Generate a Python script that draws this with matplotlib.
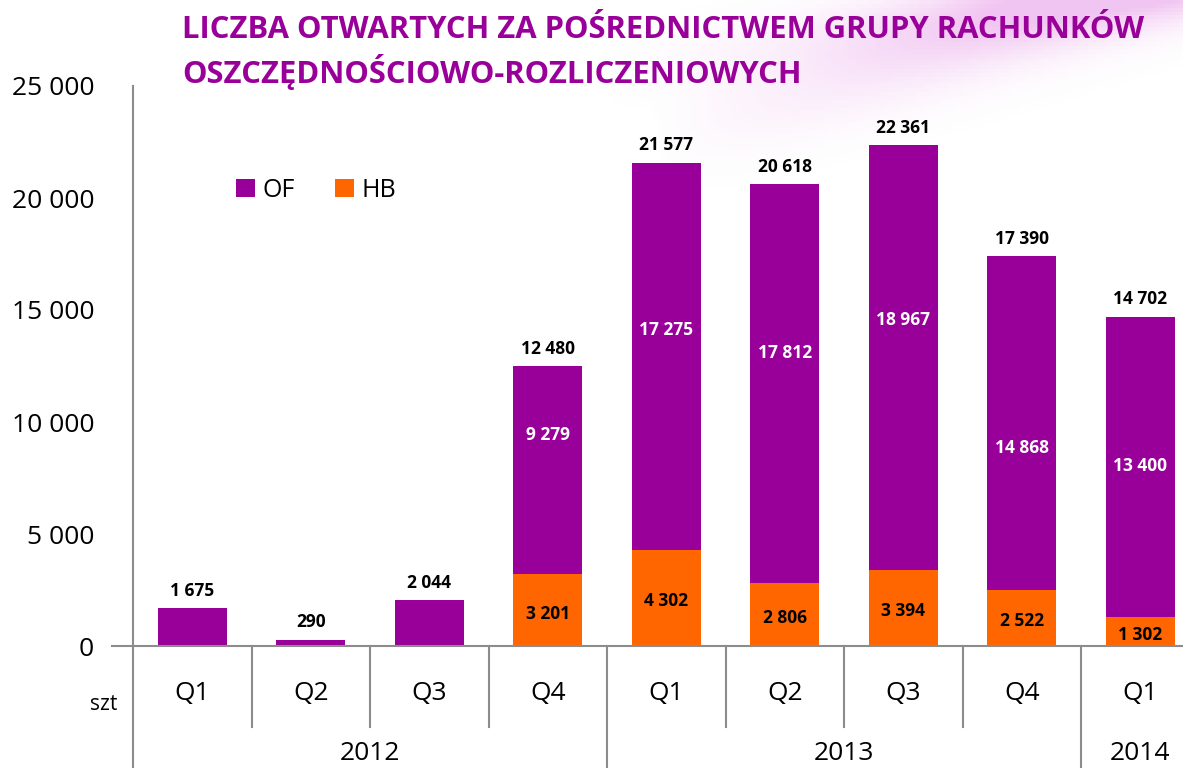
import matplotlib.pyplot as plt
import numpy as np

quarters = ['Q1', 'Q2', 'Q3', 'Q4', 'Q1', 'Q2', 'Q3', 'Q4', 'Q1']
years = ['2012', '2013', '2014']
year_spans = [(0, 4), (4, 8), (8, 9)]
hb = [0, 0, 0, 3201, 4302, 2806, 3394, 2522, 1302]
of = [1675, 290, 2044, 9279, 17275, 17812, 18967, 14868, 13400]
# vertical spots of the inner labels, as placed on the original slide
of_label_y = [None, None, None, 9400, 14100, 13100, 14550, 8850, 8050]

PURPLE = '#990099'
ORANGE = '#ff6600'
plt.rcParams['font.family'] = ['Open Sans', 'DejaVu Sans']


def fmt(v):
    return f'{v:,}'.replace(',', ' ')


fig = plt.figure(figsize=(11.83, 7.68), dpi=100)

# faint pink wisps in the top-right corner
bg = fig.add_axes([0, 0, 1, 1], zorder=-10)
xx, yy = np.meshgrid(np.linspace(0, 1, 300), np.linspace(0, 1, 200))
band = np.exp(-((yy - (0.55 + 0.5 * xx)) ** 2) / 0.004) * np.clip((xx - 0.55) / 0.45, 0, 1)
band += 0.6 * np.exp(-((yy - (0.78 + 0.25 * xx)) ** 2) / 0.002) * np.clip((xx - 0.5) / 0.5, 0, 1)
band = np.clip(band, 0, 1)
img = np.ones((200, 300, 4))
img[..., 0] = 0.85
img[..., 1] = 0.35
img[..., 2] = 0.85
img[..., 3] = band * 0.35
bg.imshow(img, origin='lower', extent=[0, 1, 0, 1], aspect='auto')
bg.set_axis_off()

ax = fig.add_axes([133 / 1183, 122 / 768, 1 - 133 / 1183, 560 / 768])
ax.patch.set_alpha(0)
x = np.arange(len(quarters))
w = 0.58
ax.bar(x, hb, w, color=ORANGE, label='HB', zorder=2)
ax.bar(x, of, w, bottom=hb, color=PURPLE, label='OF', zorder=2)

ax.set_xlim(-0.5, 8.36)
ax.set_ylim(0, 25000)
ax.set_yticks(range(0, 25001, 5000))
ax.set_yticklabels([fmt(v) for v in range(0, 25001, 5000)], fontsize=19)
ax.tick_params(axis='y', length=0, pad=28)
ax.set_xticks([])
for s in ['top', 'right']:
    ax.spines[s].set_visible(False)
ax.spines['left'].set_color('#8c8c8c')
ax.spines['bottom'].set_color('#8c8c8c')
ax.spines['left'].set_linewidth(1.5)
ax.spines['bottom'].set_linewidth(1.5)
ax.plot([-0.68, -0.5], [0, 0], color='#8c8c8c', lw=1.5, clip_on=False)

for i in range(len(quarters)):
    total = hb[i] + of[i]
    ax.annotate(fmt(total), (x[i], total), xytext=(0, 6), textcoords='offset points',
                ha='center', va='bottom', fontsize=12.5, fontweight='bold')
    if hb[i] > 0:
        ax.text(x[i], hb[i] / 2 - 150, fmt(hb[i]), ha='center', va='center',
                fontsize=12.5, fontweight='bold', color='black', zorder=3)
    if of_label_y[i] is not None:
        ax.text(x[i], of_label_y[i], fmt(of[i]), ha='center', va='center',
                fontsize=12.5, fontweight='bold', color='white', zorder=3)

# category axis below
trans = ax.get_xaxis_transform()
for i, q in enumerate(quarters):
    ax.text(x[i], -0.085, q, transform=trans, ha='center', va='center', fontsize=19)
for b in range(1, len(quarters)):
    if b in (4, 8):
        continue
    ax.plot([b - 0.5, b - 0.5], [0, -0.145], transform=trans, color='#8c8c8c', lw=1.5, clip_on=False)
for b in (0, 4, 8):
    ax.plot([b - 0.5, b - 0.5], [0, -0.22], transform=trans, color='#8c8c8c', lw=1.5, clip_on=False)
for yname, (a, b) in zip(years, year_spans):
    ax.text((a + b - 1) / 2, -0.192, yname, transform=trans, ha='center', va='center', fontsize=19)
ax.text(-0.75, -0.105, 'szt', transform=trans, ha='center', va='center', fontsize=15)

# legend
handles, labels = ax.get_legend_handles_labels()
ax.legend(handles[::-1], labels[::-1], loc='upper left', bbox_to_anchor=(0.077, 0.876),
          ncol=2, frameon=False, fontsize=18, handlelength=0.75, handleheight=0.75,
          handletextpad=0.3, columnspacing=1.6)

fig.text(182 / 1183, 1 - 30 / 768, 'LICZBA OTWARTYCH ZA POŚREDNICTWEM GRUPY RACHUNKÓW',
         color=PURPLE, fontsize=22.3, fontweight='bold', va='center', ha='left')
fig.text(182 / 1183, 1 - 72 / 768, 'OSZCZĘDNOŚCIOWO-ROZLICZENIOWYCH',
         color=PURPLE, fontsize=22.3, fontweight='bold', va='center', ha='left')

fig.savefig('out.png', dpi=100)
